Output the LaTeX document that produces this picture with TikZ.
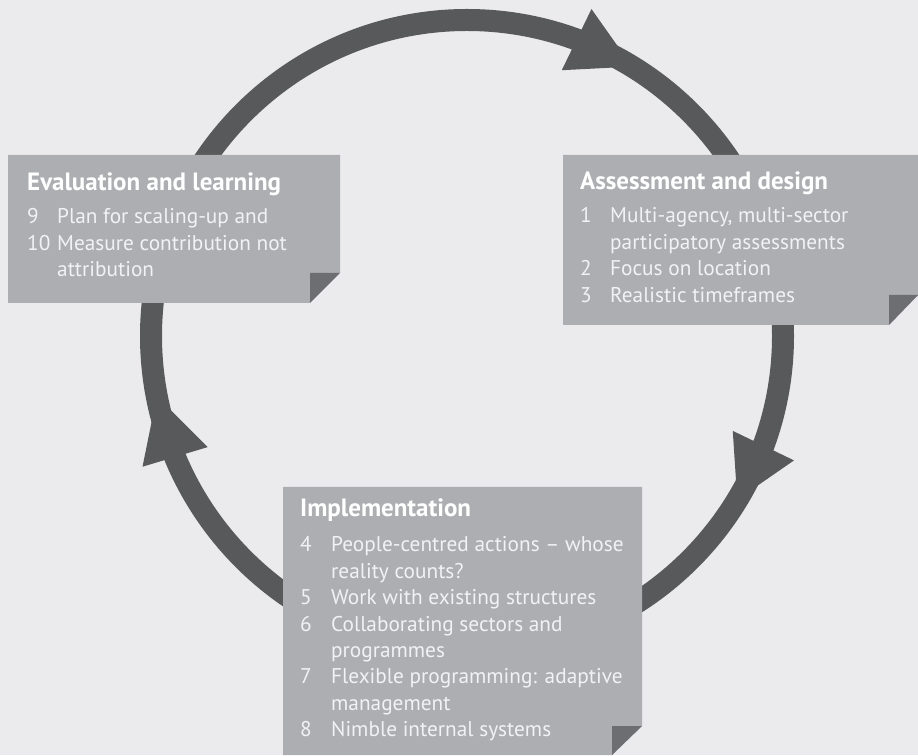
\documentclass[tikz,border=0pt]{standalone}
\usepackage{fontspec}
\setmainfont{PT Sans}
\usetikzlibrary{calc}

\definecolor{paper}{HTML}{EBEBED}
\definecolor{ringgrey}{HTML}{58595B}
\definecolor{boxgrey}{HTML}{ADAEB1}
\definecolor{foldgrey}{HTML}{6D6E71}
\definecolor{itemwhite}{HTML}{F2F2F4}

\tikzset{
    card/.style={fill=boxgrey},
    fold/.style={fill=foldgrey},
    ring/.style={draw=ringgrey, line width=22pt},
    tip/.style={fill=ringgrey},
    head/.style={anchor=base west, inner sep=0pt, text=white, font=\fontsize{25}{28}\selectfont\bfseries},
    items/.style={anchor=base west, inner sep=0pt, text=itemwhite, font=\fontsize{21.3}{26.4}\selectfont}
}

\begin{document}
\begin{tikzpicture}[x=1pt,y=1pt]
    \useasboundingbox (0,0) rectangle (918,755);
    \fill[paper] (0,0) rectangle (918,755);

    % Cycle
    \coordinate (C) at (467,419);
    \draw[ring] (C) circle (316);
    \foreach \b/\t in {69.7/58.5, -20.3/-31.2, 202.5/191} {
        \coordinate (B) at ($(C)+(\b:316)$);
        \coordinate (T) at ($(C)+(\t:316)$);
        \fill[tip] ($(B)!34pt!90:(T)$) -- (T) -- ($(B)!34pt!-90:(T)$) -- cycle;
    }

    % Evaluation and learning
    \fill[card] (8,452) -- (8,600) -- (340,600) -- (340,482) -- (310,452) -- cycle;
    \fill[fold] (310,482) -- (340,482) -- (310,452) -- cycle;
    \node[head] (evalhead) at (27,564) {Evaluation and learning};
    \node[items] (evalitems) at (27,531) {\begin{tabular}[t]{@{}p{30pt}@{}l@{}}
        9 & Plan for scaling-up and\\
        10 & Measure contribution not\\
           & attribution
    \end{tabular}};

    % Assessment and design
    \fill[card] (563,430) -- (563,600) -- (918,600) -- (918,460) -- (889,430) -- cycle;
    \fill[fold] (889,460) -- (918,460) -- (889,430) -- cycle;
    \node[head] (assesshead) at (580,565) {Assessment and design};
    \node[items] (assessitems) at (580,532) {\begin{tabular}[t]{@{}p{30pt}@{}l@{}}
        1 & Multi-agency, multi-sector\\
          & participatory assessments\\
        2 & Focus on location\\
        3 & Realistic timeframes
    \end{tabular}};

    % Implementation
    \fill[card] (283,0) -- (283,268) -- (642,268) -- (642,29) -- (612,0) -- cycle;
    \fill[fold] (612,29) -- (642,29) -- (612,0) -- cycle;
    \node[head] (implhead) at (300,238) {Implementation};
    \node[items] (implitems) at (300,203) {\begin{tabular}[t]{@{}p{31pt}@{}l@{}}
        4 & People-centred actions -- whose\\
          & reality counts?\\
        5 & Work with existing structures\\
        6 & Collaborating sectors and\\
          & programmes\\
        7 & Flexible programming: adaptive\\
          & management\\
        8 & Nimble internal systems
    \end{tabular}};
\end{tikzpicture}
\end{document}
